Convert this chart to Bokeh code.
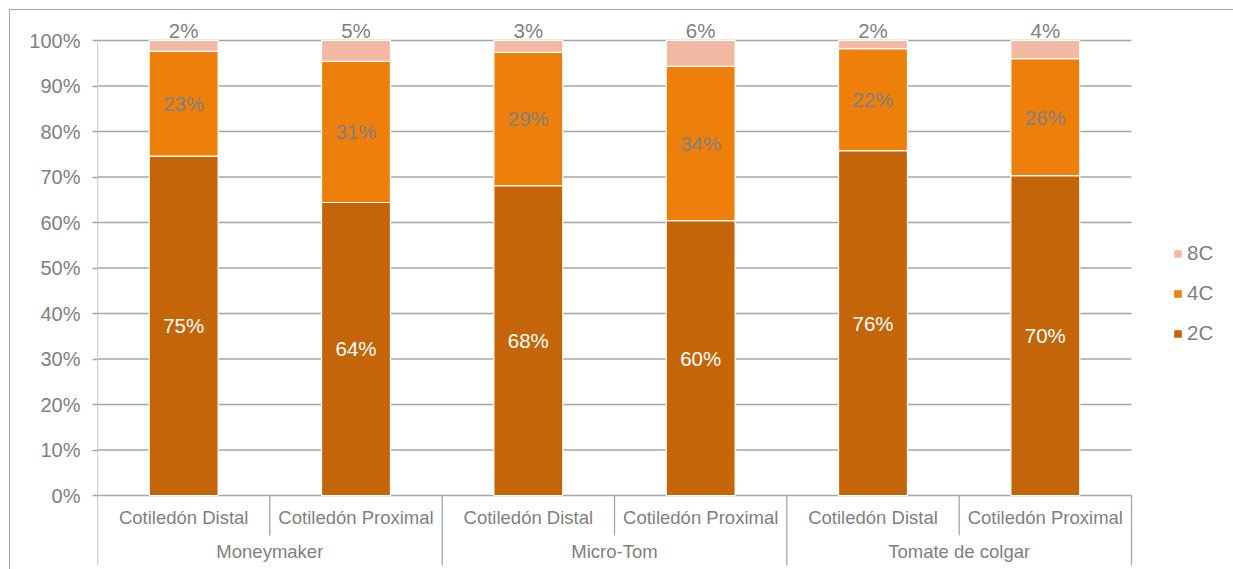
from bokeh.plotting import figure
from bokeh.layouts import column
from bokeh.models import (ColumnDataSource, Range1d, FixedTicker, PrintfTickFormatter,
                          Legend, LegendItem)
from bokeh.core.properties import value
from bokeh.embed import file_html
from bokeh.resources import INLINE

groups = ["Moneymaker", "Micro-Tom", "Tomate de colgar"]
tissues = ["Cotiledón Distal", "Cotiledón Proximal"]
c2 = [74.6, 64.4, 68.1, 60.4, 75.8, 70.3]
c4 = [23.0, 31.0, 29.3, 33.9, 22.4, 25.7]
c8 = [2.4, 4.6, 2.6, 5.7, 1.8, 4.0]
y_ticks = [0, 10, 20, 30, 40, 50, 60, 70, 80, 90, 100]

FONT = "Liberation Sans"
GRAY = "#7f7f7f"
LINE = "#a6a6a6"
COL2, COL4, COL8 = "#C4650A", "#EE7F0B", "#F4B9A2"
FS = "18.5px"     # category labels
FSN = "20.5px"    # numeric labels / legend
FST = "20px"      # tick labels

n_sub = len(tissues)
labels_sub = [t for g in groups for t in tissues]
xs = list(range(len(labels_sub)))
n = len(xs)

k = 4.55                  # px per percent unit
ku = 1034 / n             # px per category
y_top = 100 + 26 / k
y_bot = -70 / k
x_lo = -0.5
x_hi = n - 0.5 + 102 / ku

p = figure(width=1223, height=559, x_range=Range1d(x_lo, x_hi), y_range=Range1d(y_bot, y_top),
           output_backend="svg", toolbar_location=None, x_axis_location=None,
           min_border_left=87, min_border_right=0, min_border_top=4, min_border_bottom=4)
p.outline_line_color = None
p.background_fill_color = "white"
p.border_fill_color = "white"
p.xgrid.visible = False
p.ygrid.visible = False

ax = p.yaxis[0]
ax.ticker = FixedTicker(ticks=y_ticks)
ax.formatter = PrintfTickFormatter(format="%d%%")
ax.axis_line_color = None
ax.major_tick_line_color = LINE
ax.major_tick_line_width = 1.3
ax.major_tick_out = 5
ax.major_tick_in = 0
ax.minor_tick_line_color = None
ax.major_label_text_font = FONT
ax.major_label_text_font_size = FST
ax.major_label_text_color = GRAY
ax.major_label_standoff = 12

# horizontal gridlines over the category span only
p.segment(x0=[x_lo] * len(y_ticks), y0=y_ticks, x1=[n - 0.5] * len(y_ticks), y1=y_ticks,
          line_color=LINE, line_width=1.3)

src = ColumnDataSource(dict(x=xs, c2=c2, c4=c4, c8=c8))
rs = p.vbar_stack(["c2", "c4", "c8"], x="x", width=0.4, source=src,
                  color=[COL2, COL4, COL8], line_color="white", line_width=1.2)

# value labels
mid2 = [v / 2 for v in c2]
mid4 = [a + b / 2 for a, b in zip(c2, c4)]
top = [a + b + c for a, b, c in zip(c2, c4, c8)]
lab = ColumnDataSource(dict(x=xs, m2=mid2, m4=mid4, t=top,
                            l2=[f"{round(v)}%" for v in c2],
                            l4=[f"{round(v)}%" for v in c4],
                            l8=[f"{round(v)}%" for v in c8]))
p.text(x="x", y="m2", text="l2", source=lab, text_align="center", text_baseline="middle",
       text_font=value(FONT), text_font_size=FSN, text_color="white")
p.text(x="x", y="m4", text="l4", source=lab, text_align="center", text_baseline="middle",
       text_font=value(FONT), text_font_size=FSN, text_color=GRAY)
p.text(x="x", y="t", text="l8", source=lab, text_align="center", text_baseline="middle",
       y_offset=-10, text_font=value(FONT), text_font_size=FSN, text_color=GRAY)

# two-level category axis
sub_y = -22 / k
grp_y = -56 / k
sub_sep_y = -40 / k
p.text(x=xs, y=[sub_y] * n, text=labels_sub, text_align="center",
       text_baseline="middle", text_font=value(FONT), text_font_size=FS, text_color=GRAY)
gcent = [i * n_sub + (n_sub - 1) / 2 for i in range(len(groups))]
p.text(x=gcent, y=[grp_y] * len(groups), text=groups,
       text_align="center", text_baseline="middle", text_font=value(FONT), text_font_size=FS,
       text_color=GRAY)
sx = [i + 0.5 for i in xs if (i + 1) % n_sub != 0]
p.segment(x0=sx, y0=[0] * len(sx), x1=sx, y1=[sub_sep_y] * len(sx), line_color=LINE, line_width=1.3)
gx = [i * n_sub - 0.5 for i in range(len(groups) + 1)]
gy0 = [100] + [0] * (len(gx) - 1)
p.segment(x0=gx, y0=gy0, x1=gx, y1=[y_bot] * len(gx), line_color=LINE, line_width=1.3)

legend = Legend(items=[LegendItem(label="8C", renderers=[rs[2]]),
                       LegendItem(label="4C", renderers=[rs[1]]),
                       LegendItem(label="2C", renderers=[rs[0]])],
                location=(1075, 220), orientation="vertical")
legend.label_text_font = FONT
legend.label_text_font_size = FSN
legend.label_text_color = GRAY
legend.glyph_width = 11
legend.glyph_height = 11
legend.label_height = 18
legend.spacing = 16
legend.padding = 0
legend.margin = 0
legend.label_standoff = 4
legend.border_line_color = None
legend.background_fill_alpha = 0
p.add_layout(legend, "center")

page = column(p, styles={"margin": "9px 0 0 9px", "border-top": "1px solid #a6a6a6",
                         "border-left": "1px solid #a6a6a6"})

open("out.html", "w").write(file_html(page, INLINE))
